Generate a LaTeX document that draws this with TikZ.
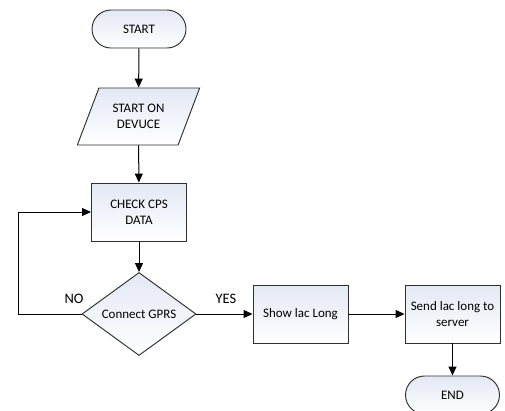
\documentclass[tikz,border=0pt]{standalone}
\usepackage{fontspec}
\setmainfont{Carlito}
\usetikzlibrary{shapes.geometric,shapes.misc,arrows.meta}
\definecolor{fillTop}{HTML}{E3E8F4}
\definecolor{lineCol}{HTML}{303030}
\tikzset{
  base/.style={draw=lineCol, line width=0.95pt, top color=fillTop, bottom color=white, font=\fontsize{13}{16}\selectfont, align=center, inner sep=0pt},
  term/.style={base, rounded rectangle, minimum width=94pt, minimum height=38pt},
  io/.style={base, trapezium, trapezium left angle=60, trapezium right angle=120, trapezium stretches=true, minimum width=123pt, minimum height=57pt},
  proc/.style={base, rectangle, minimum width=95pt, minimum height=58pt},
  decis/.style={base, diamond, minimum width=114pt, minimum height=68pt},
  conn/.style={line width=1pt, draw=black, -{Triangle[length=9pt,width=8pt]}},
  lbl/.style={font=\fontsize{14.5}{16}\selectfont}
}
\begin{document}
\begin{tikzpicture}[x=1pt,y=-1pt]
\useasboundingbox (0,0) rectangle (505,410);
\node[term] (start) at (139,29) {START};
\node[io] (dev) at (138.5,116.5) {START ON\\DEVUCE};
\node[proc] (check) at (139,212) {CHECK CPS\\DATA};
\node[decis] (gprs) at (139,314) {Connect GPRS};
\node[proc] (show) at (300.5,314) {Show lac Long};
\node[proc] (send) at (452.5,314) {Send lac long to\\server};
\node[term] (end) at (452.5,395) {END};
\coordinate (lb) at (18,314);
\coordinate (lt) at (18,212);
\draw[conn] (start) -- (dev);
\draw[conn] (dev) -- (check);
\draw[conn] (check) -- (gprs);
\draw[conn] (gprs.west) -- (lb) -- (lt) -- (check.west);
\draw[conn] (gprs.east) -- (show.west);
\draw[conn] (show) -- (send);
\draw[conn] (send) -- (end);
\node[lbl] (no) at (74,299) {NO};
\node[lbl] (yes) at (226,299) {YES};
\end{tikzpicture}
\end{document}
